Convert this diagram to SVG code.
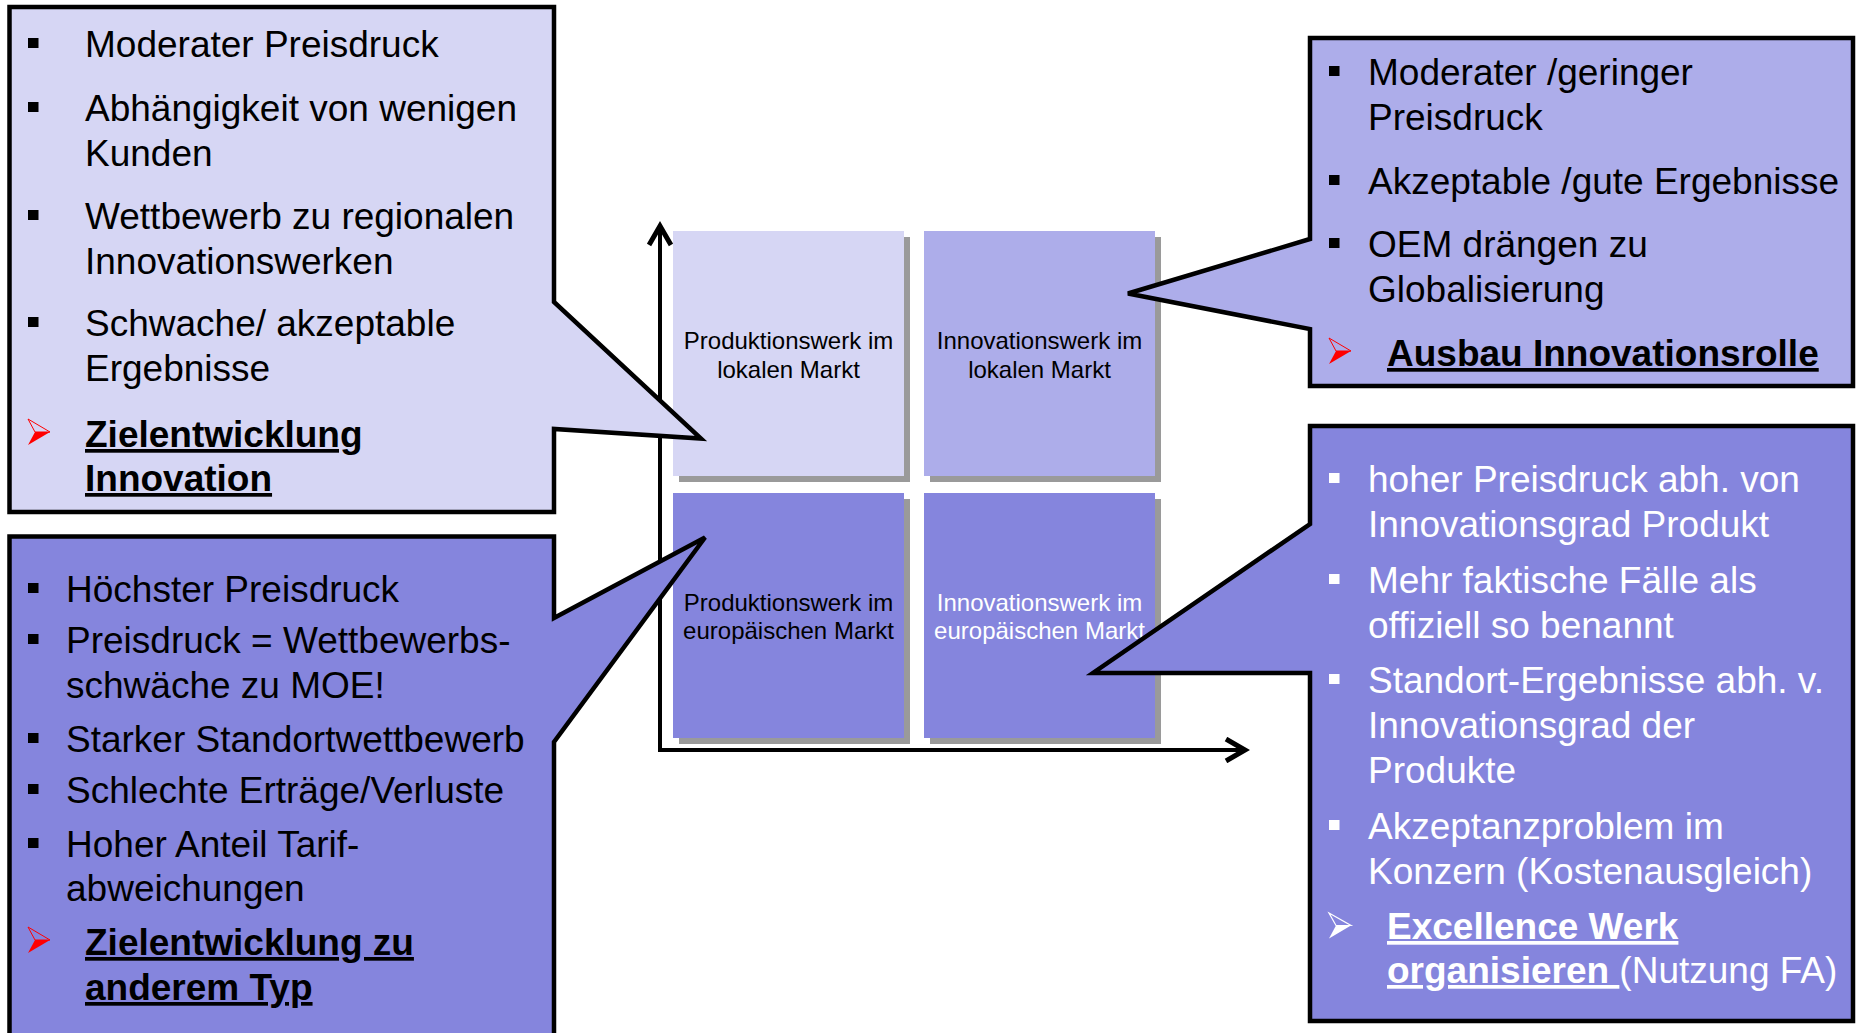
<svg xmlns="http://www.w3.org/2000/svg" width="1857" height="1033" viewBox="0 0 1857 1033">
  <style>
    .t { font-family: "Liberation Sans", Arial, sans-serif; font-size: 37px; fill: #000; }
    .w { fill: #fff; }
    .b { font-weight: bold; text-decoration: underline; }
    .cell { font-family: "Liberation Sans", Arial, sans-serif; font-size: 24px; text-anchor: middle; fill: #000; }
    .callout { stroke: #000; stroke-width: 4.5; stroke-linejoin: miter; }
    .light { fill: #D6D6F4; }
    .mid { fill: #ADADEA; }
    .dark { fill: #8585DD; }
    .shadow { fill: #9A9A9A; }
    .axis { fill: none; stroke: #000; stroke-width: 4; }
  </style>
  <defs>
    <rect id="bk" width="10.5" height="10" fill="#000"/>
    <rect id="bw" width="10.5" height="10" fill="#fff"/>
    <g id="arrRed">
      <polygon points="0,0 22,13 7,13" fill="none" stroke="#f00" stroke-width="1"/>
      <polygon points="7,13 22,13 0,26" fill="#f00"/>
    </g>
    <g id="arrWhite">
      <polygon points="0,0 22,12.5 7,12.5" fill="none" stroke="#fff" stroke-width="1.2"/>
      <polygon points="7,12.5 22,12.5 0,25.5" fill="#fff"/>
    </g>
    <marker id="chev" viewBox="0 0 26 26" refX="22" refY="13" markerWidth="26" markerHeight="26" orient="auto" markerUnits="userSpaceOnUse">
      <path d="M2,2 L21,13 L2,24" fill="none" stroke="#000" stroke-width="5"/>
    </marker>
  </defs>

  <!-- grid cells -->
  <g id="cell-prod-lokal">
    <rect class="shadow" x="679" y="237" width="231" height="245"/>
    <rect class="light" x="673" y="231" width="231" height="245"/>
    <text class="cell" x="788.5" y="349">Produktionswerk im</text>
    <text class="cell" x="788.5" y="377.5">lokalen Markt</text>
  </g>
  <g id="cell-innov-lokal">
    <rect class="shadow" x="930" y="237" width="231" height="245"/>
    <rect class="mid" x="924" y="231" width="231" height="245"/>
    <text class="cell" x="1039.5" y="349">Innovationswerk im</text>
    <text class="cell" x="1039.5" y="377.5">lokalen Markt</text>
  </g>
  <g id="cell-prod-europa">
    <rect class="shadow" x="679" y="499" width="231" height="245"/>
    <rect class="dark" x="673" y="493" width="231" height="245"/>
    <text class="cell" x="788.5" y="610.5">Produktionswerk im</text>
    <text class="cell" x="788.5" y="638.5">europäischen Markt</text>
  </g>
  <g id="cell-innov-europa">
    <rect class="shadow" x="930" y="499" width="231" height="245"/>
    <rect class="dark" x="924" y="493" width="231" height="245"/>
    <text class="cell" x="1039.5" y="610.5" style="fill:#fff">Innovationswerk im</text>
    <text class="cell" x="1039.5" y="638.5" style="fill:#fff">europäischen Markt</text>
  </g>

  <!-- connectors: axes -->
  <g id="connectors">
    <path class="axis" d="M660,750 V225" marker-end="url(#chev)"/>
    <path class="axis" d="M658,750 H1246" marker-end="url(#chev)"/>
  </g>

  <!-- callout top-left -->
  <g id="callout-tl">
    <path class="callout light" d="M9.5,7 H554 V302 L701,438.5 L554,429 V512 H9.5 Z"/>
    <use href="#bk" x="28" y="38"/>
    <text class="t" x="85" y="57">Moderater Preisdruck</text>
    <use href="#bk" x="28" y="102"/>
    <text class="t" x="85" y="121">Abhängigkeit von wenigen</text>
    <text class="t" x="85" y="166">Kunden</text>
    <use href="#bk" x="28" y="210"/>
    <text class="t" x="85" y="229">Wettbewerb zu regionalen</text>
    <text class="t" x="85" y="274">Innovationswerken</text>
    <use href="#bk" x="28" y="317"/>
    <text class="t" x="85" y="336">Schwache/ akzeptable</text>
    <text class="t" x="85" y="381">Ergebnisse</text>
    <use href="#arrRed" x="28" y="419"/>
    <text class="t b" x="85" y="447">Zielentwicklung</text>
    <text class="t b" x="85" y="491">Innovation</text>
  </g>

  <!-- callout bottom-left -->
  <g id="callout-bl">
    <path class="callout dark" d="M9.5,536.5 H554 V618 L705,537.5 L554,742 V1045 H9.5 Z"/>
    <use href="#bk" x="28" y="583"/>
    <text class="t" x="66" y="602">Höchster Preisdruck</text>
    <use href="#bk" x="28" y="634"/>
    <text class="t" x="66" y="653">Preisdruck = Wettbewerbs-</text>
    <text class="t" x="66" y="698">schwäche zu MOE!</text>
    <use href="#bk" x="28" y="733"/>
    <text class="t" x="66" y="752">Starker Standortwettbewerb</text>
    <use href="#bk" x="28" y="784"/>
    <text class="t" x="66" y="803">Schlechte Erträge/Verluste</text>
    <use href="#bk" x="28" y="838"/>
    <text class="t" x="66" y="857">Hoher Anteil Tarif-</text>
    <text class="t" x="66" y="901">abweichungen</text>
    <use href="#arrRed" x="28" y="927"/>
    <text class="t b" x="85" y="955">Zielentwicklung zu</text>
    <text class="t b" x="85" y="1000">anderem Typ</text>
  </g>

  <!-- callout top-right -->
  <g id="callout-tr">
    <path class="callout mid" d="M1310,38 H1853 V386 H1310 V329 L1128,293.5 L1310,239 Z"/>
    <use href="#bk" x="1329" y="66"/>
    <text class="t" x="1368" y="85">Moderater /geringer</text>
    <text class="t" x="1368" y="130">Preisdruck</text>
    <use href="#bk" x="1329" y="175"/>
    <text class="t" x="1368" y="194">Akzeptable /gute Ergebnisse</text>
    <use href="#bk" x="1329" y="238"/>
    <text class="t" x="1368" y="257">OEM drängen zu</text>
    <text class="t" x="1368" y="302">Globalisierung</text>
    <use href="#arrRed" x="1329" y="338"/>
    <text class="t b" x="1387" y="366">Ausbau Innovationsrolle</text>
  </g>

  <!-- callout bottom-right -->
  <g id="callout-br">
    <path class="callout dark" d="M1310,426 H1853 V1021 H1310 V673 L1093,673 L1310,524 Z"/>
    <use href="#bw" x="1329" y="473"/>
    <text class="t w" x="1368" y="492">hoher Preisdruck abh. von</text>
    <text class="t w" x="1368" y="537">Innovationsgrad Produkt</text>
    <use href="#bw" x="1329" y="574"/>
    <text class="t w" x="1368" y="593">Mehr faktische Fälle als</text>
    <text class="t w" x="1368" y="638">offiziell so benannt</text>
    <use href="#bw" x="1329" y="674"/>
    <text class="t w" x="1368" y="693">Standort-Ergebnisse abh. v.</text>
    <text class="t w" x="1368" y="738">Innovationsgrad der</text>
    <text class="t w" x="1368" y="783">Produkte</text>
    <use href="#bw" x="1329" y="820"/>
    <text class="t w" x="1368" y="839">Akzeptanzproblem im</text>
    <text class="t w" x="1368" y="884">Konzern (Kostenausgleich)</text>
    <use href="#arrWhite" x="1329" y="913"/>
    <text class="t w b" x="1387" y="939">Excellence Werk</text>
    <text class="t w" x="1387" y="983"><tspan class="b">organisieren&#160;</tspan>(Nutzung FA)</text>
  </g>
</svg>
